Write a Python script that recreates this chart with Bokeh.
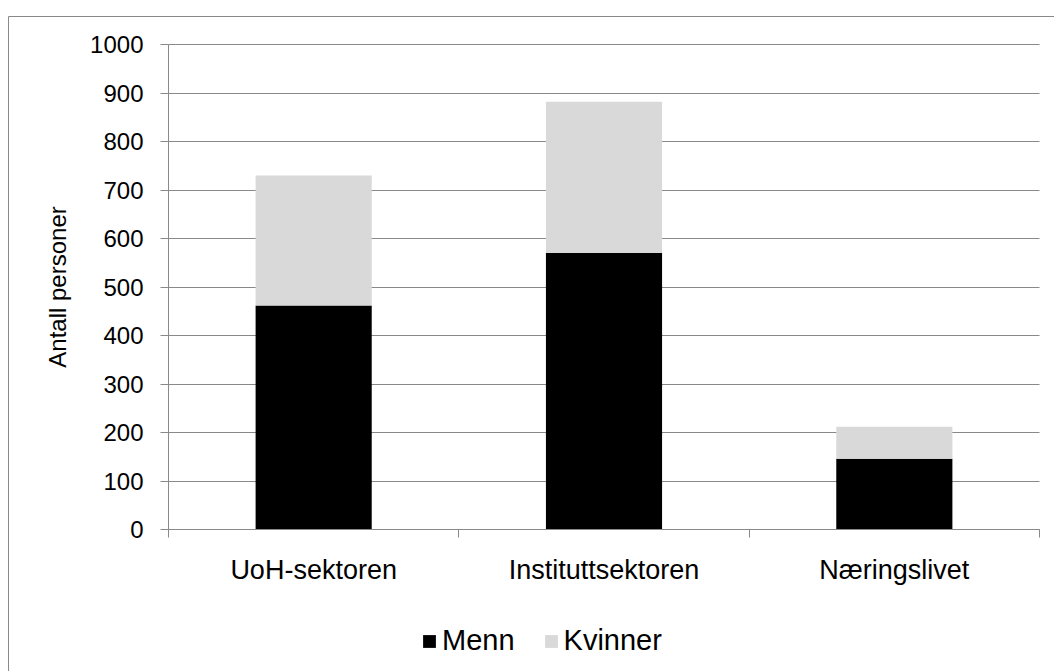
from bokeh.plotting import figure
from bokeh.models import ColumnDataSource, FixedTicker, Range1d, Legend, BoxAnnotation
from bokeh.embed import file_html
from bokeh.resources import INLINE

categories = ["UoH-sektoren", "Instituttsektoren", "Næringslivet"]
menn = [462, 570, 146]
kvinner = [268, 312, 66]
series = ["Menn", "Kvinner"]
colors = ["#000000", "#d9d9d9"]
y_ticks = list(range(0, 1001, 100))

n = len(categories)
x = [i + 0.5 for i in range(n)]
source = ColumnDataSource(dict(x=x, Menn=menn, Kvinner=kvinner))

FONT = "Liberation Sans"
GRAY = "#898989"

# Layout (pixels on the 1054x671 canvas)
W, H = 1054, 671
PLOT_L, PLOT_R, PLOT_T, PLOT_B = 168, 1039, 44, 529
Y_MAX = 1000
BORDER_X, BORDER_Y = 8, 16

px_per_x = (PLOT_R - PLOT_L) / n
px_per_y = (PLOT_B - PLOT_T) / Y_MAX
x_start = -PLOT_L / px_per_x
x_end = n + (W - PLOT_R) / px_per_x
y_start = -(H - PLOT_B) / px_per_y
y_end = Y_MAX + PLOT_T / px_per_y

# The frame covers the whole canvas; axes are pinned at data zero.
p = figure(frame_width=W, frame_height=H, output_backend="svg",
           toolbar_location=None,
           x_range=Range1d(x_start, x_end), y_range=Range1d(y_start, y_end),
           min_border_left=0, min_border_right=0, min_border_top=0,
           min_border_bottom=0)

renderers = p.vbar_stack(series, x="x", width=0.4, color=colors, source=source,
                         line_color=None)

p.outline_line_color = None
p.background_fill_color = "white"
p.border_fill_color = "white"

# chart-area border (its right and bottom edges fall outside the canvas)
p.add_layout(BoxAnnotation(left=(BORDER_X - PLOT_L) / px_per_x, right=x_end + 1,
                           top=Y_MAX + (PLOT_T - BORDER_Y) / px_per_y,
                           bottom=y_start - 100,
                           fill_alpha=0, line_color=GRAY, line_alpha=1.0,
                           line_width=1, level="underlay"))

p.xgrid.visible = False
p.ygrid.grid_line_color = GRAY
p.ygrid.grid_line_width = 1
p.ygrid.ticker = FixedTicker(ticks=y_ticks)
p.ygrid.bounds = (0, Y_MAX)
p.ygrid.cross_bounds = (0, n)

yax = p.yaxis[0]
yax.fixed_location = 0
yax.bounds = (0, Y_MAX)
yax.ticker = FixedTicker(ticks=y_ticks)
yax.axis_line_color = GRAY
yax.major_tick_line_color = GRAY
yax.major_tick_out = 8
yax.major_tick_in = 0
yax.minor_tick_line_color = None
yax.major_label_text_font = FONT
yax.major_label_text_font_size = "24px"
yax.major_label_text_color = "black"
yax.major_label_standoff = 17
yax.axis_label = "Antall personer"
yax.axis_label_text_font = FONT
yax.axis_label_text_font_size = "24px"
yax.axis_label_text_font_style = "normal"
yax.axis_label_text_color = "black"
yax.axis_label_standoff = 16

xax = p.xaxis[0]
xax.fixed_location = 0
xax.bounds = (0, n)
xax.ticker = FixedTicker(ticks=x, minor_ticks=list(range(n + 1)))
xax.major_label_overrides = {xi: c for xi, c in zip(x, categories)}
xax.axis_line_color = GRAY
xax.major_tick_line_color = None
xax.minor_tick_line_color = GRAY
xax.minor_tick_out = 8
xax.minor_tick_in = 0
xax.major_tick_out = 8
xax.major_label_text_font = FONT
xax.major_label_text_font_size = "27px"
xax.major_label_text_color = "black"
xax.major_label_standoff = 17

legend = Legend(items=[(s, [r]) for s, r in zip(series, renderers)],
                orientation="horizontal", location=(421, 14))
legend.label_text_font = FONT
legend.label_text_font_size = "29px"
legend.label_text_color = "black"
legend.glyph_width = 16
legend.glyph_height = 16
legend.label_standoff = 5
legend.spacing = 28
legend.border_line_color = None
legend.background_fill_alpha = 0
legend.margin = 0
legend.padding = 0
p.add_layout(legend)

open("out.html", "w").write(file_html(p, INLINE))
